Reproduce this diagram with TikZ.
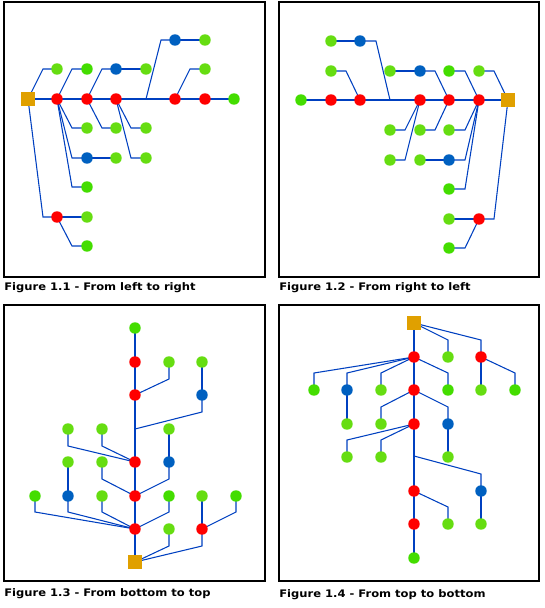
\documentclass[tikz,border=0pt]{standalone}
\usepackage{fontspec}
\setmainfont{DejaVu Sans}
\usetikzlibrary{backgrounds}
\definecolor{cR}{HTML}{FF0000}
\definecolor{cL}{HTML}{66DD11}
\definecolor{cG}{HTML}{44DD00}
\definecolor{cB}{HTML}{0060C0}
\definecolor{cS}{HTML}{E0A000}
\definecolor{cE}{HTML}{0040C0}
\newcommand{\figtext}[1]{\scalebox{1.11}[1]{#1}}
\tikzset{
  dot/.style={circle, inner sep=0pt, minimum size=8.6pt, draw=none},
  nR/.style={dot, fill=cR},
  nL/.style={dot, fill=cL},
  nG/.style={dot, fill=cG},
  nB/.style={dot, fill=cB},
  nS/.style={rectangle, inner sep=0pt, minimum size=10pt, fill=cS, draw=none},
  ed/.style={draw=cE, line width=0.8pt},
  frame/.style={draw=black, line width=0.9pt},
  figcap/.style={anchor=base west, inner sep=0pt, font=\fontsize{7.8pt}{9pt}\selectfont\bfseries}
}
\begin{document}
\begin{tikzpicture}[x=0.75pt,y=-0.75pt]
\useasboundingbox (0,0) rectangle (545,608);
% frames
\draw[frame] (4,2) rectangle (265,277);
\draw[frame] (279,2) rectangle (539,277);
\draw[frame] (4,305) rectangle (265,581);
\draw[frame] (279,305) rectangle (539,581);
% captions
\node[figcap] (t1) at (4,290) {\figtext{Figure 1.1 - From left to right}};
\node[figcap] (t2) at (279,290) {\figtext{Figure 1.2 - From right to left}};
\node[figcap] (t3) at (4,596) {\figtext{Figure 1.3 - From bottom to top}};
\node[figcap] (t4) at (279,597) {\figtext{Figure 1.4 - From top to bottom}};

% ---------- Panel 1 ----------
\node[nS] (a0) at (28,99) {};
\node[nR] (a1) at (57,99) {};
\node[nR] (a2) at (87,99) {};
\node[nR] (a3) at (116,99) {};
\node[nR] (a4) at (175,99) {};
\node[nR] (a5) at (205,99) {};
\node[nG] (a6) at (234,99) {};
\node[nL] (a7) at (57,69) {};
\node[nG] (a8) at (87,69) {};
\node[nB] (a9) at (116,69) {};
\node[nL] (a10) at (146,69) {};
\node[nL] (a11) at (205,69) {};
\node[nB] (a12) at (175,40) {};
\node[nL] (a13) at (205,40) {};
\node[nL] (a14) at (87,128) {};
\node[nL] (a15) at (116,128) {};
\node[nL] (a16) at (146,128) {};
\node[nB] (a17) at (87,158) {};
\node[nL] (a18) at (116,158) {};
\node[nL] (a19) at (146,158) {};
\node[nG] (a20) at (87,187) {};
\node[nR] (a21) at (57,217) {};
\node[nL] (a22) at (87,217) {};
\node[nG] (a23) at (87,246) {};
\coordinate (v1) at (146,99);

% ---------- Panel 2 ----------
\node[nS] (b0) at (508,100) {};
\node[nR] (b1) at (479,100) {};
\node[nR] (b2) at (449,100) {};
\node[nR] (b3) at (420,100) {};
\node[nR] (b4) at (360,100) {};
\node[nR] (b5) at (331,100) {};
\node[nG] (b6) at (301,100) {};
\node[nL] (b7) at (479,71) {};
\node[nG] (b8) at (449,71) {};
\node[nB] (b9) at (420,71) {};
\node[nL] (b10) at (390,71) {};
\node[nL] (b11) at (331,71) {};
\node[nB] (b12) at (360,41) {};
\node[nL] (b13) at (331,41) {};
\node[nL] (b14) at (449,130) {};
\node[nL] (b15) at (420,130) {};
\node[nL] (b16) at (390,130) {};
\node[nB] (b17) at (449,160) {};
\node[nL] (b18) at (420,160) {};
\node[nL] (b19) at (390,160) {};
\node[nG] (b20) at (449,189) {};
\node[nR] (b21) at (479,219) {};
\node[nL] (b22) at (449,219) {};
\node[nG] (b23) at (449,248) {};
\coordinate (v2) at (390,100);

% ---------- Panel 3 ----------
\node[nS] (c0) at (135,562) {};
\node[nR] (c1) at (135,529) {};
\node[nR] (c2) at (135,496) {};
\node[nR] (c3) at (135,462) {};
\node[nR] (c4) at (135,395) {};
\node[nR] (c5) at (135,362) {};
\node[nG] (c6) at (135,328) {};
\node[nL] (c7) at (169,529) {};
\node[nR] (c8) at (202,529) {};
\node[nG] (c9) at (35,496) {};
\node[nB] (c10) at (68,496) {};
\node[nL] (c11) at (102,496) {};
\node[nG] (c12) at (169,496) {};
\node[nL] (c13) at (202,496) {};
\node[nG] (c14) at (236,496) {};
\node[nL] (c15) at (68,462) {};
\node[nL] (c16) at (102,462) {};
\node[nB] (c17) at (169,462) {};
\node[nL] (c18) at (68,429) {};
\node[nL] (c19) at (102,429) {};
\node[nL] (c20) at (169,429) {};
\node[nB] (c21) at (202,395) {};
\node[nL] (c22) at (169,362) {};
\node[nL] (c23) at (202,362) {};
\coordinate (v3) at (135,429);

% ---------- Panel 4 ----------
\node[nS] (d0) at (414,323) {};
\node[nR] (d1) at (414,357) {};
\node[nL] (d2) at (448,357) {};
\node[nR] (d3) at (481,357) {};
\node[nG] (d4) at (314,390) {};
\node[nB] (d5) at (347,390) {};
\node[nL] (d6) at (381,390) {};
\node[nR] (d7) at (414,390) {};
\node[nG] (d8) at (448,390) {};
\node[nL] (d9) at (481,390) {};
\node[nG] (d10) at (515,390) {};
\node[nL] (d11) at (347,424) {};
\node[nL] (d12) at (381,424) {};
\node[nR] (d13) at (414,424) {};
\node[nB] (d14) at (448,424) {};
\node[nL] (d15) at (347,457) {};
\node[nL] (d16) at (381,457) {};
\node[nL] (d17) at (448,457) {};
\node[nR] (d18) at (414,491) {};
\node[nB] (d19) at (481,491) {};
\node[nR] (d20) at (414,524) {};
\node[nL] (d21) at (448,524) {};
\node[nL] (d22) at (481,524) {};
\node[nG] (d23) at (414,558) {};
\coordinate (v4) at (414,456);

\begin{scope}[on background layer]
% panel 1 edges
\draw[ed] (a0.center) -- (a1.center) -- (a2.center) -- (a3.center) -- (v1) -- (a4.center) -- (a5.center) -- (a6.center);
\draw[ed] (a0.center) -- (43,69) -- (a7.center);
\draw[ed] (a0.center) -- (43,217) -- (a21.center);
\draw[ed] (a1.center) -- (72,69) -- (a8.center);
\draw[ed] (a1.center) -- (72,128) -- (a14.center);
\draw[ed] (a1.center) -- (72,158) -- (a17.center);
\draw[ed] (a1.center) -- (72,187) -- (a20.center);
\draw[ed] (a2.center) -- (102,69) -- (a9.center);
\draw[ed] (a2.center) -- (102,128) -- (a15.center);
\draw[ed] (a17.center) -- (a18.center);
\draw[ed] (a9.center) -- (a10.center);
\draw[ed] (v1) -- (161,40) -- (a12.center);
\draw[ed] (a12.center) -- (a13.center);
\draw[ed] (a3.center) -- (131,128) -- (a16.center);
\draw[ed] (a3.center) -- (131,158) -- (a19.center);
\draw[ed] (a4.center) -- (190,69) -- (a11.center);
\draw[ed] (a21.center) -- (a22.center);
\draw[ed] (a21.center) -- (72,246) -- (a23.center);
% panel 2 edges
\draw[ed] (b0.center) -- (b1.center) -- (b2.center) -- (b3.center) -- (v2) -- (b4.center) -- (b5.center) -- (b6.center);
\draw[ed] (b0.center) -- (494,71) -- (b7.center);
\draw[ed] (b0.center) -- (494,219) -- (b21.center);
\draw[ed] (b1.center) -- (465,71) -- (b8.center);
\draw[ed] (b1.center) -- (465,130) -- (b14.center);
\draw[ed] (b1.center) -- (465,160) -- (b17.center);
\draw[ed] (b1.center) -- (465,189) -- (b20.center);
\draw[ed] (b2.center) -- (435,71) -- (b9.center);
\draw[ed] (b2.center) -- (435,130) -- (b15.center);
\draw[ed] (b17.center) -- (b18.center);
\draw[ed] (b9.center) -- (b10.center);
\draw[ed] (v2) -- (376,41) -- (b12.center);
\draw[ed] (b12.center) -- (b13.center);
\draw[ed] (b3.center) -- (405,130) -- (b16.center);
\draw[ed] (b3.center) -- (405,160) -- (b19.center);
\draw[ed] (b4.center) -- (346,71) -- (b11.center);
\draw[ed] (b21.center) -- (b22.center);
\draw[ed] (b21.center) -- (465,248) -- (b23.center);
% panel 3 edges
\draw[ed] (c0.center) -- (c1.center) -- (c2.center) -- (c3.center) -- (v3) -- (c4.center) -- (c5.center) -- (c6.center);
\draw[ed] (c0.center) -- (169,546) -- (c7.center);
\draw[ed] (c0.center) -- (202,546) -- (c8.center);
\draw[ed] (c8.center) -- (c13.center);
\draw[ed] (c8.center) -- (236,512) -- (c14.center);
\draw[ed] (c1.center) -- (35,512) -- (c9.center);
\draw[ed] (c1.center) -- (68,512) -- (c10.center);
\draw[ed] (c1.center) -- (102,512) -- (c11.center);
\draw[ed] (c1.center) -- (169,512) -- (c12.center);
\draw[ed] (c10.center) -- (c15.center);
\draw[ed] (c2.center) -- (102,479) -- (c16.center);
\draw[ed] (c2.center) -- (169,479) -- (c17.center);
\draw[ed] (c17.center) -- (c20.center);
\draw[ed] (c3.center) -- (68,446) -- (c18.center);
\draw[ed] (c3.center) -- (102,446) -- (c19.center);
\draw[ed] (v3) -- (202,412) -- (c21.center);
\draw[ed] (c21.center) -- (c23.center);
\draw[ed] (c4.center) -- (169,379) -- (c22.center);
% panel 4 edges
\draw[ed] (d0.center) -- (d1.center) -- (d7.center) -- (d13.center) -- (v4) -- (d18.center) -- (d20.center) -- (d23.center);
\draw[ed] (d0.center) -- (448,340) -- (d2.center);
\draw[ed] (d0.center) -- (481,340) -- (d3.center);
\draw[ed] (d3.center) -- (d9.center);
\draw[ed] (d3.center) -- (515,373) -- (d10.center);
\draw[ed] (d1.center) -- (314,373) -- (d4.center);
\draw[ed] (d1.center) -- (347,373) -- (d5.center);
\draw[ed] (d1.center) -- (381,373) -- (d6.center);
\draw[ed] (d1.center) -- (448,373) -- (d8.center);
\draw[ed] (d5.center) -- (d11.center);
\draw[ed] (d7.center) -- (381,407) -- (d12.center);
\draw[ed] (d7.center) -- (448,407) -- (d14.center);
\draw[ed] (d14.center) -- (d17.center);
\draw[ed] (d13.center) -- (347,440) -- (d15.center);
\draw[ed] (d13.center) -- (381,440) -- (d16.center);
\draw[ed] (v4) -- (481,474) -- (d19.center);
\draw[ed] (d19.center) -- (d22.center);
\draw[ed] (d18.center) -- (448,507) -- (d21.center);
\end{scope}
\end{tikzpicture}
\end{document}
